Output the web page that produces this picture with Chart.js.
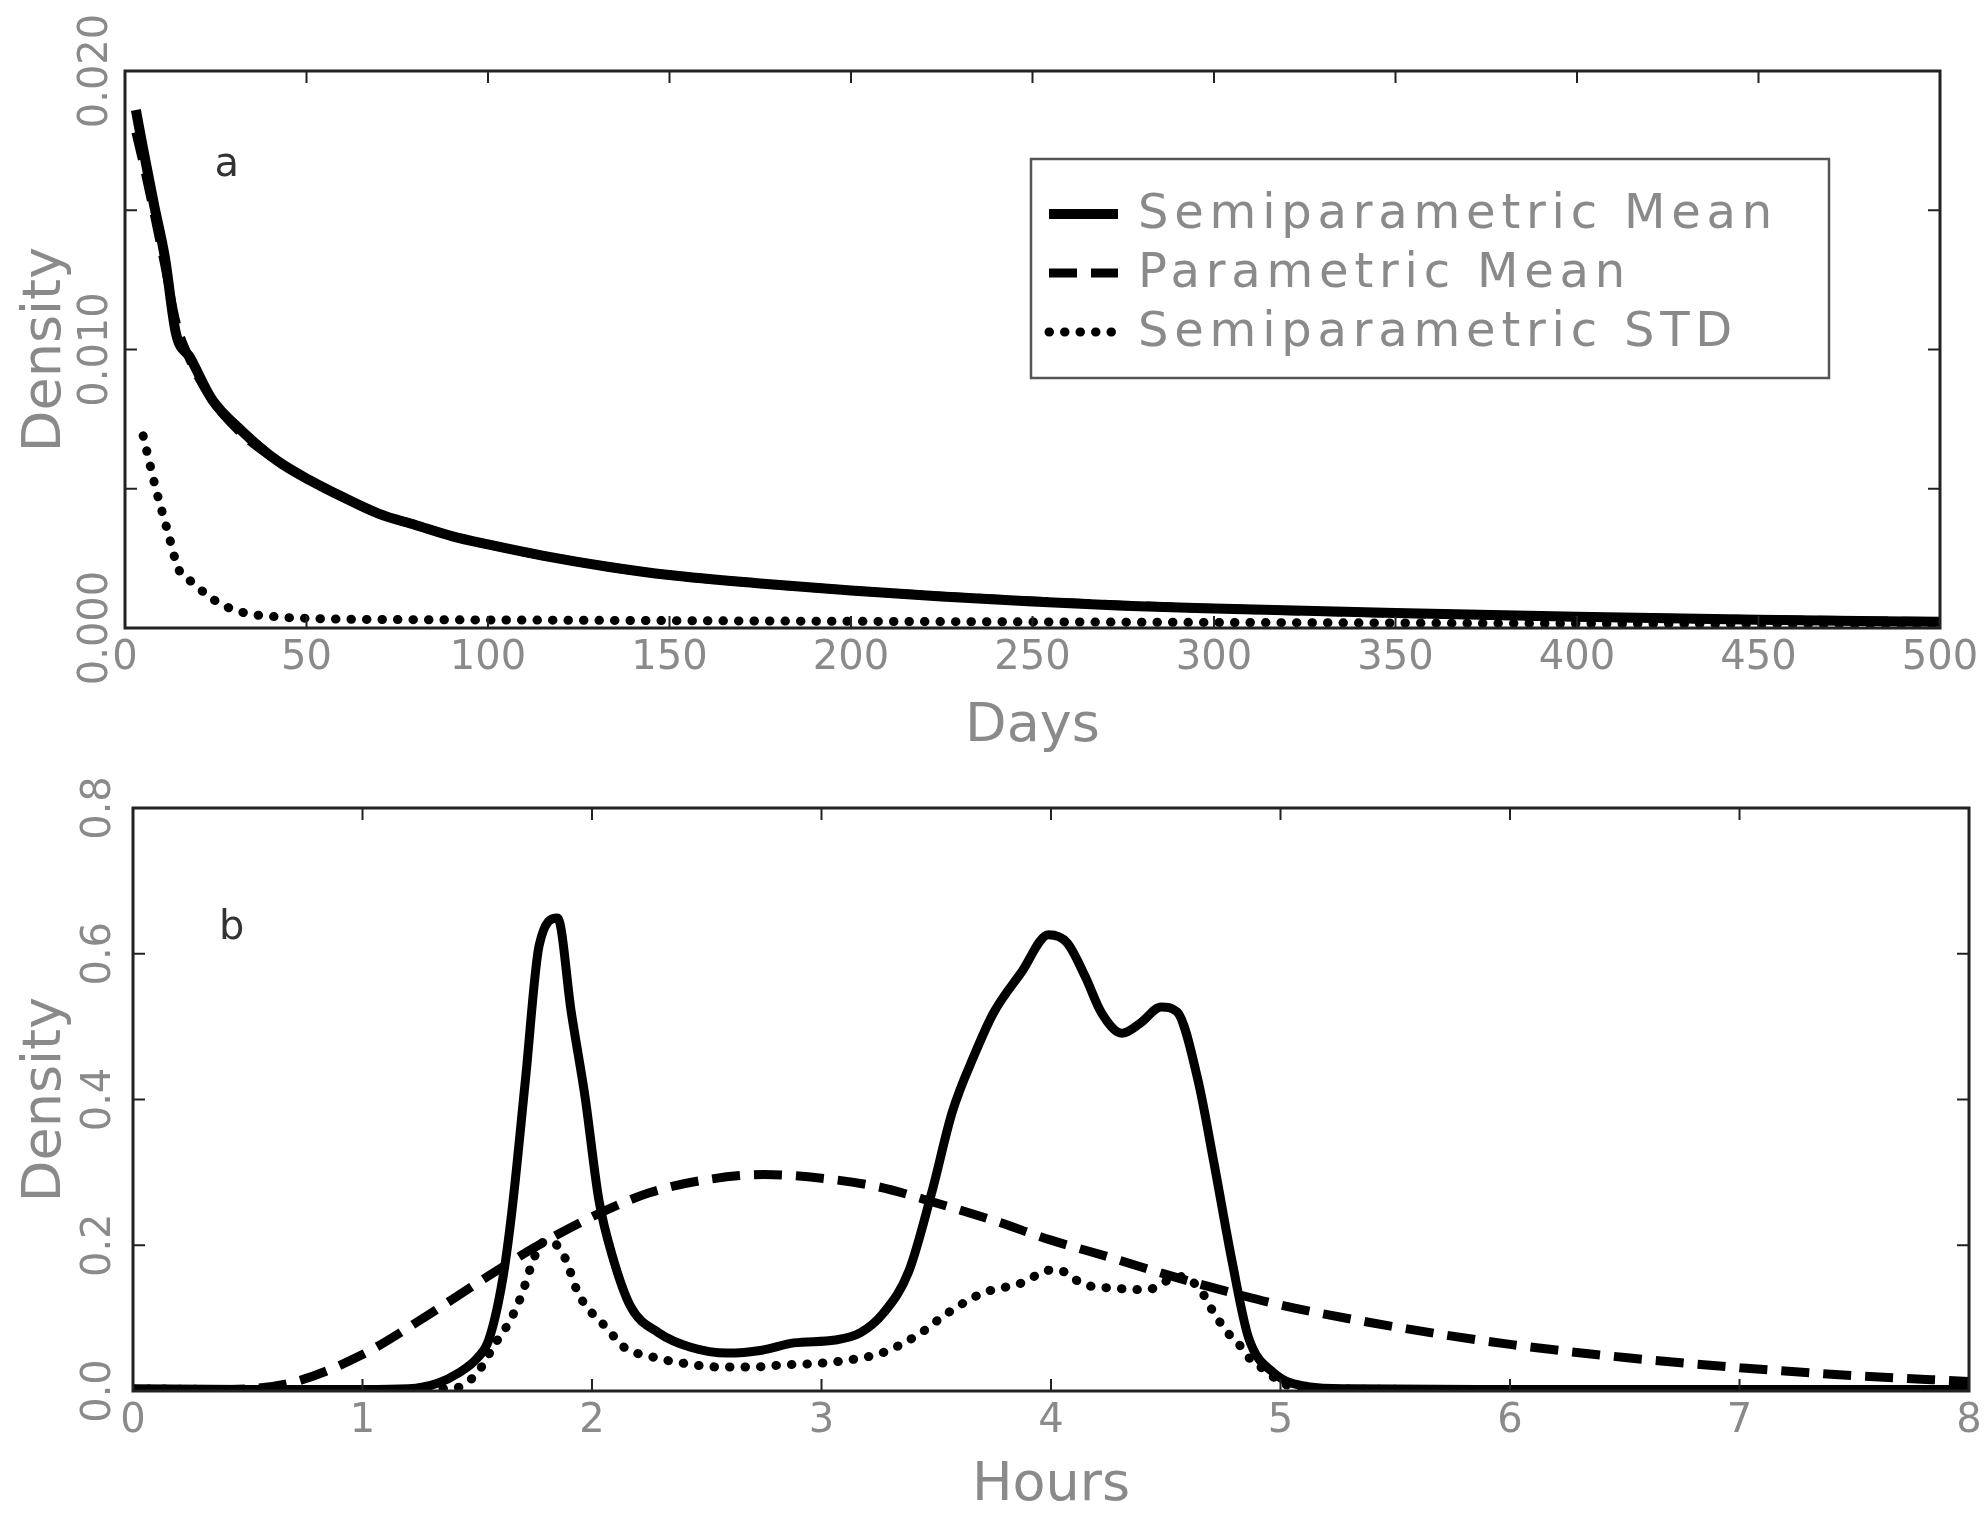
<!DOCTYPE html>
<html>
<head>
<meta charset="utf-8">
<script src="https://cdn.jsdelivr.net/npm/chart.js@4.4.1/dist/chart.umd.min.js"></script>
<style>
  html, body { margin: 0; padding: 0; background: #fff; }
  #wrap { position: relative; width: 1988px; height: 1513px; }
  canvas { position: absolute; left: 0; }
</style>
</head>
<body>
<div id="wrap">
  <canvas id="chartA" width="1988" height="760" style="top:0px"></canvas>
  <canvas id="chartB" width="1988" height="753" style="top:760px"></canvas>
</div>
<script>
// ---- panel a (days) ----
const daysA = [3, 5, 8, 11, 14, 18, 24, 32, 42, 51, 60, 70, 80, 90, 100, 115, 133, 150, 175, 200, 225, 250, 275, 300, 350, 400, 450, 500];
const semiMeanA = [0.0186, 0.0172, 0.0152, 0.0133, 0.0106, 0.0097, 0.0082, 0.0071, 0.0060, 0.0053, 0.0047, 0.0041, 0.0037, 0.0033, 0.0030, 0.0026, 0.0022, 0.0019, 0.0016, 0.00135, 0.00113, 0.00095, 0.0008, 0.0007, 0.00054, 0.0004, 0.0003, 0.00022];
const paramMeanA = [0.0178, 0.0167, 0.0149, 0.0130, 0.0110, 0.0096, 0.0082, 0.0070, 0.0060, 0.0053, 0.0047, 0.0041, 0.0037, 0.0033, 0.0030, 0.0026, 0.0022, 0.0019, 0.0016, 0.00135, 0.00114, 0.00097, 0.00082, 0.0007, 0.00053, 0.0004, 0.0003, 0.00023];
const stdDaysA = [5, 8.6, 11.7, 14.8, 18.4, 22, 26.4, 33, 42, 55, 80, 120, 200, 300, 400, 500];
const semiStdA = [0.0069, 0.00495, 0.0035, 0.0021, 0.00165, 0.00125, 0.00086, 0.00054, 0.0004, 0.00033, 0.0003, 0.00028, 0.00024, 0.0002, 0.00016, 0.00012];
const dayTicks = [0, 50, 100, 150, 200, 250, 300, 350, 400, 450, 500];
const densTicksA = [0, 0.005, 0.010, 0.015, 0.020];
const densLabelsA = ['0.000', '', '0.010', '', '0.020'];

// ---- panel b (hours) ----
const hoursSemi = [0, 0.5, 1.0, 1.2, 1.33, 1.42, 1.5, 1.55, 1.61, 1.65, 1.71, 1.77, 1.85, 1.91, 1.97, 2.03, 2.09, 2.17, 2.29, 2.43, 2.59, 2.74, 2.88, 3.06, 3.17, 3.27, 3.38, 3.48, 3.57, 3.67, 3.75, 3.87, 3.99, 4.07, 4.15, 4.22, 4.31, 4.39, 4.48, 4.55, 4.64, 4.71, 4.79, 4.86, 4.97, 5.12, 5.3, 6, 7, 8];
const semiMeanB = [0.003, 0.002, 0.002, 0.003, 0.011, 0.025, 0.045, 0.070, 0.152, 0.244, 0.427, 0.612, 0.649, 0.519, 0.403, 0.262, 0.184, 0.115, 0.080, 0.060, 0.052, 0.056, 0.066, 0.070, 0.080, 0.107, 0.164, 0.272, 0.383, 0.464, 0.519, 0.574, 0.626, 0.615, 0.568, 0.519, 0.491, 0.505, 0.527, 0.520, 0.427, 0.313, 0.176, 0.074, 0.025, 0.006, 0.003, 0.002, 0.002, 0.002];
const hoursParam = [0, 0.3, 0.5, 0.7, 1.0, 1.25, 1.5, 1.75, 2.0, 2.25, 2.5, 2.75, 3.0, 3.25, 3.5, 3.75, 4.0, 4.25, 4.5, 4.75, 5.0, 5.5, 6.0, 6.5, 7.0, 7.5, 8.0];
const paramMeanB = [0.002, 0.002, 0.003, 0.012, 0.050, 0.097, 0.148, 0.197, 0.239, 0.272, 0.290, 0.297, 0.292, 0.280, 0.258, 0.234, 0.207, 0.184, 0.160, 0.138, 0.118, 0.088, 0.064, 0.046, 0.032, 0.021, 0.013];
const hoursStd = [0, 0.5, 1.0, 1.4, 1.5, 1.58, 1.64, 1.69, 1.74, 1.78, 1.82, 1.88, 1.94, 2.0, 2.06, 2.14, 2.26, 2.40, 2.55, 2.70, 2.84, 2.99, 3.13, 3.27, 3.42, 3.55, 3.70, 3.87, 4.0, 4.07, 4.13, 4.28, 4.42, 4.51, 4.57, 4.65, 4.71, 4.77, 4.83, 4.87, 4.95, 5.0, 5.2, 6, 7, 8];
const semiStdB = [0.003, 0.002, 0.002, 0.004, 0.025, 0.066, 0.095, 0.129, 0.176, 0.203, 0.205, 0.184, 0.134, 0.107, 0.088, 0.060, 0.047, 0.038, 0.033, 0.033, 0.036, 0.038, 0.043, 0.053, 0.077, 0.107, 0.134, 0.148, 0.166, 0.162, 0.148, 0.141, 0.139, 0.152, 0.157, 0.139, 0.107, 0.080, 0.060, 0.043, 0.025, 0.011, 0.003, 0.002, 0.002, 0.002];
const hourTicks = [0, 1, 2, 3, 4, 5, 6, 7, 8];
const densTicksB = [0, 0.2, 0.4, 0.6, 0.8];
const densLabelsB = ['0.0', '0.2', '0.4', '0.6', '0.8'];

const seriesNames = ['Semiparametric Mean', 'Parametric Mean', 'Semiparametric STD'];

const FONT = '"DejaVu Sans", "Liberation Sans", sans-serif';
const GRAY = '#8a8a8a';
const DASH = [28, 14];
const DOTS = [0.5, 15];

function pts(xs, ys) {
    return xs.map((x, i) => ({ x: x, y: ys[i] }));
}

function lineSet(label, data, width, dash) {
    return {
        label: label,
        data: data,
        borderColor: '#000',
        borderWidth: width,
        borderDash: dash,
        borderCapStyle: dash === DOTS ? 'round' : 'butt',
        borderJoinStyle: 'round',
        pointRadius: 0,
        fill: false,
        cubicInterpolationMode: 'monotone'
    };
}

// box, inner tick marks and panel letter
const framePlugin = {
    id: 'frame',
    afterDraw(chart, args, opts) {
        const { ctx, chartArea: a, scales } = chart;
        const len = 12;
        ctx.save();
        ctx.strokeStyle = '#222';
        ctx.lineWidth = 2;
        ctx.beginPath();
        scales.x.ticks.forEach(t => {
            const px = scales.x.getPixelForValue(t.value);
            ctx.moveTo(px, a.bottom); ctx.lineTo(px, a.bottom - len);
            ctx.moveTo(px, a.top); ctx.lineTo(px, a.top + len);
        });
        scales.y.ticks.forEach(t => {
            const py = scales.y.getPixelForValue(t.value);
            ctx.moveTo(a.left, py); ctx.lineTo(a.left + len, py);
            ctx.moveTo(a.right, py); ctx.lineTo(a.right - len, py);
        });
        ctx.stroke();
        ctx.lineWidth = 3;
        ctx.strokeRect(a.left, a.top, a.right - a.left, a.bottom - a.top);

        ctx.fillStyle = '#333';
        ctx.font = '40px ' + FONT;
        ctx.textAlign = 'center';
        ctx.textBaseline = 'middle';
        ctx.fillText(opts.letter, scales.x.getPixelForValue(opts.at[0]), scales.y.getPixelForValue(opts.at[1]));
        ctx.restore();
    }
};

// boxed legend drawn from the dataset styles
const boxLegend = {
    id: 'boxLegend',
    afterDraw(chart, args, opts) {
        if (!opts.show) return;
        const ctx = chart.ctx;
        const b = opts.box;
        ctx.save();
        ctx.fillStyle = '#fff';
        ctx.fillRect(b[0], b[1], b[2] - b[0], b[3] - b[1]);
        ctx.strokeStyle = '#555';
        ctx.lineWidth = 2.5;
        ctx.strokeRect(b[0], b[1], b[2] - b[0], b[3] - b[1]);
        ctx.font = '48px ' + FONT;
        ctx.letterSpacing = '5.8px';
        ctx.textAlign = 'left';
        ctx.textBaseline = 'middle';
        chart.data.datasets.forEach((ds, i) => {
            const y = opts.rows[i];
            ctx.strokeStyle = '#000';
            ctx.lineWidth = ds.borderWidth;
            ctx.lineCap = ds.borderCapStyle;
            ctx.setLineDash(ds.borderDash || []);
            ctx.beginPath();
            ctx.moveTo(opts.lineX[0], y);
            ctx.lineTo(opts.lineX[1], y);
            ctx.stroke();
            ctx.setLineDash([]);
            ctx.fillStyle = GRAY;
            ctx.fillText(ds.label, opts.textX, y + 2);
        });
        ctx.restore();
    }
};

function makeChart(id, cfg) {
    return new Chart(document.getElementById(id), {
        type: 'line',
        data: { datasets: cfg.datasets },
        plugins: [framePlugin, boxLegend],
        options: {
            responsive: false,
            animation: false,
            devicePixelRatio: 1,
            layout: { padding: cfg.padding },
            plugins: {
                legend: { display: false },
                tooltip: { enabled: false },
                frame: { letter: cfg.letter, at: cfg.letterAt },
                boxLegend: cfg.legend
            },
            scales: {
                x: {
                    type: 'linear',
                    min: cfg.xTicks[0],
                    max: cfg.xTicks[cfg.xTicks.length - 1],
                    grid: { display: false, drawTicks: false },
                    border: { display: false },
                    afterBuildTicks: s => { s.ticks = cfg.xTicks.map(v => ({ value: v })); },
                    afterFit: s => { s.height = cfg.xHeight; s.paddingLeft = 0; s.paddingRight = 0; },
                    ticks: {
                        color: GRAY,
                        font: { family: FONT, size: 40 },
                        padding: 7,
                        autoSkip: false,
                        maxRotation: 0,
                        callback: v => String(v)
                    },
                    title: {
                        display: true,
                        text: cfg.xTitle,
                        color: GRAY,
                        font: { family: FONT, size: 54 },
                        padding: { top: 0, bottom: cfg.xTitlePad }
                    }
                },
                y: {
                    type: 'linear',
                    min: cfg.yTicks[0],
                    max: cfg.yTicks[cfg.yTicks.length - 1],
                    grid: { display: false, drawTicks: false },
                    border: { display: false },
                    afterBuildTicks: s => { s.ticks = cfg.yTicks.map(v => ({ value: v })); },
                    afterFit: s => { s.width = cfg.yWidth; s.paddingTop = 0; s.paddingBottom = 0; },
                    ticks: {
                        color: GRAY,
                        font: { family: FONT, size: 40 },
                        minRotation: 90,
                        maxRotation: 90,
                        crossAlign: 'center',
                        padding: cfg.yTickPad,
                        autoSkip: false,
                        callback: (v, i) => cfg.yLabels[i]
                    },
                    title: {
                        display: true,
                        text: 'Density',
                        color: GRAY,
                        font: { family: FONT, size: 54 },
                        padding: { top: 14, bottom: 0 }
                    }
                }
            }
        }
    });
}

makeChart('chartA', {
    datasets: [
        lineSet(seriesNames[0], pts(daysA, semiMeanA), 10, []),
        lineSet(seriesNames[1], pts(daysA, paramMeanA), 9, DASH),
        lineSet(seriesNames[2], pts(stdDaysA, semiStdA), 9, DOTS)
    ],
    padding: { top: 71, right: 48, left: 0, bottom: 0 },
    xTicks: dayTicks, yTicks: densTicksA, yLabels: densLabelsA,
    xHeight: 132, yWidth: 125, yTickPad: -29, xTitle: 'Days', xTitlePad: 1,
    letter: 'a', letterAt: [28, 0.0166],
    legend: { show: true, box: [1031, 159, 1829, 378], rows: [214, 273, 332], lineX: [1049, 1118], textX: 1138 }
});

makeChart('chartB', {
    datasets: [
        lineSet(seriesNames[0], pts(hoursSemi, semiMeanB), 9, []),
        lineSet(seriesNames[1], pts(hoursParam, paramMeanB), 9, DASH),
        lineSet(seriesNames[2], pts(hoursStd, semiStdB), 9, DOTS)
    ],
    padding: { top: 48, right: 19, left: 0, bottom: 0 },
    xTicks: hourTicks, yTicks: densTicksB, yLabels: densLabelsB,
    xHeight: 122, yWidth: 133, yTickPad: 2, xTitle: 'Hours', xTitlePad: -5,
    letter: 'b', letterAt: [0.43, 0.634],
    legend: { show: false }
});
</script>
</body>
</html>
